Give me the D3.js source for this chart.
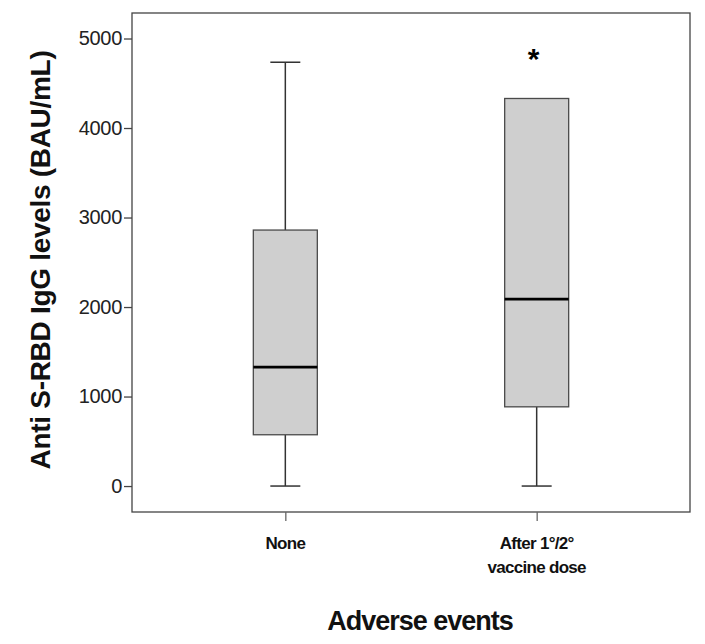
<!DOCTYPE html>
<html><head><meta charset="utf-8">
<script src="https://cdn.jsdelivr.net/npm/d3@7"></script>
<style>body{margin:0;background:#fff}svg{display:block}</style>
</head><body>
<script>
const categories = ["None", "After 1°/2°\nvaccine dose"];
const whiskerLow = [0, 0];
const q1 = [573, 885];
const median = [1328, 2088];
const q3 = [2860, 4330];
const whiskerHigh = [4735, null];
const outliers = [[], [4800]];
const yTicks = [0, 1000, 2000, 3000, 4000, 5000];
const yLabel = "Anti S-RBD IgG levels (BAU/mL)";
const xLabel = "Adverse events";

const W = 705, H = 644;
const m = {left: 132, right: 690, top: 13, bottom: 512};
const svg = d3.select("body").append("svg").attr("width", W).attr("height", H);

const y = d3.scaleLinear().domain([-290, 5285]).range([m.bottom, m.top]);
const x = d3.scalePoint().domain(categories).range([m.left, m.right]).padding(0.61);

// frame
svg.append("rect").attr("x", m.left).attr("y", m.top)
  .attr("width", m.right - m.left).attr("height", m.bottom - m.top)
  .attr("fill", "none").attr("stroke", "#444").attr("stroke-width", 1.3);

// y axis
const ya = svg.append("g").attr("transform", `translate(${m.left},0)`)
  .call(d3.axisLeft(y).tickValues(yTicks).tickSize(8).tickPadding(2).tickFormat(d3.format("d")));
ya.select(".domain").remove();
ya.selectAll("line").attr("stroke", "#444").attr("stroke-width", 1.3);
ya.selectAll("text").attr("font-family", "Arial, 'Liberation Sans', sans-serif")
  .attr("font-size", 20).attr("fill", "#222").attr("letter-spacing", "-0.3px");

// x axis
const xa = svg.append("g").attr("transform", `translate(0,${m.bottom})`)
  .call(d3.axisBottom(x).tickSize(9).tickFormat(""));
xa.select(".domain").remove();
xa.selectAll("line").attr("stroke", "#666").attr("stroke-width", 1.3);

categories.forEach((c, i) => {
  const lines = c.split("\n");
  const t = svg.append("text").attr("x", x(c)).attr("y", 549)
    .attr("text-anchor", "middle")
    .attr("font-family", "Arial, 'Liberation Sans', sans-serif")
    .attr("font-weight", "bold").attr("font-size", 17).attr("fill", "#111")
    .attr("letter-spacing", "-0.7px");
  lines.forEach((l, j) => t.append("tspan").attr("x", x(c)).attr("dy", j === 0 ? 0 : 24).text(l));
});

// boxes
const bw = 64, cw = 30;
categories.forEach((c, i) => {
  const cx = x(c);
  const g = svg.append("g");
  const hi = whiskerHigh[i];
  if (hi !== null) {
    g.append("line").attr("x1", cx).attr("x2", cx).attr("y1", y(q3[i])).attr("y2", y(hi))
      .attr("stroke", "#333").attr("stroke-width", 1.5);
    g.append("line").attr("x1", cx - cw/2).attr("x2", cx + cw/2).attr("y1", y(hi)).attr("y2", y(hi))
      .attr("stroke", "#333").attr("stroke-width", 1.5);
  }
  g.append("line").attr("x1", cx).attr("x2", cx).attr("y1", y(q1[i])).attr("y2", y(whiskerLow[i]))
    .attr("stroke", "#333").attr("stroke-width", 1.5);
  g.append("line").attr("x1", cx - cw/2).attr("x2", cx + cw/2).attr("y1", y(whiskerLow[i])).attr("y2", y(whiskerLow[i]))
    .attr("stroke", "#333").attr("stroke-width", 1.5);
  g.append("rect").attr("x", cx - bw/2).attr("y", y(q3[i]))
    .attr("width", bw).attr("height", y(q1[i]) - y(q3[i]))
    .attr("fill", "#cfcfcf").attr("stroke", "#4a4a4a").attr("stroke-width", 1.3);
  g.append("line").attr("x1", cx - bw/2).attr("x2", cx + bw/2).attr("y1", y(median[i])).attr("y2", y(median[i]))
    .attr("stroke", "#000").attr("stroke-width", 2.8);
  outliers[i].forEach(v => {
    g.append("text").attr("x", cx - 3).attr("y", y(v) + 13).attr("text-anchor", "middle")
      .attr("font-family", "Arial, 'Liberation Sans', sans-serif").attr("font-weight", "bold")
      .attr("font-size", 30).attr("fill", "#000").text("*");
  });
});

// axis titles
svg.append("text").attr("transform", `translate(50,260) rotate(-90)`)
  .attr("text-anchor", "middle").attr("font-family", "Arial, 'Liberation Sans', sans-serif")
  .attr("font-weight", "bold").attr("font-size", 28).attr("fill", "#111")
  .attr("letter-spacing", "-0.3px").text(yLabel);
svg.append("text").attr("x", 420).attr("y", 630).attr("text-anchor", "middle")
  .attr("font-family", "Arial, 'Liberation Sans', sans-serif")
  .attr("font-weight", "bold").attr("font-size", 27).attr("fill", "#111")
  .attr("letter-spacing", "-1px").text(xLabel);
</script>
</body></html>
